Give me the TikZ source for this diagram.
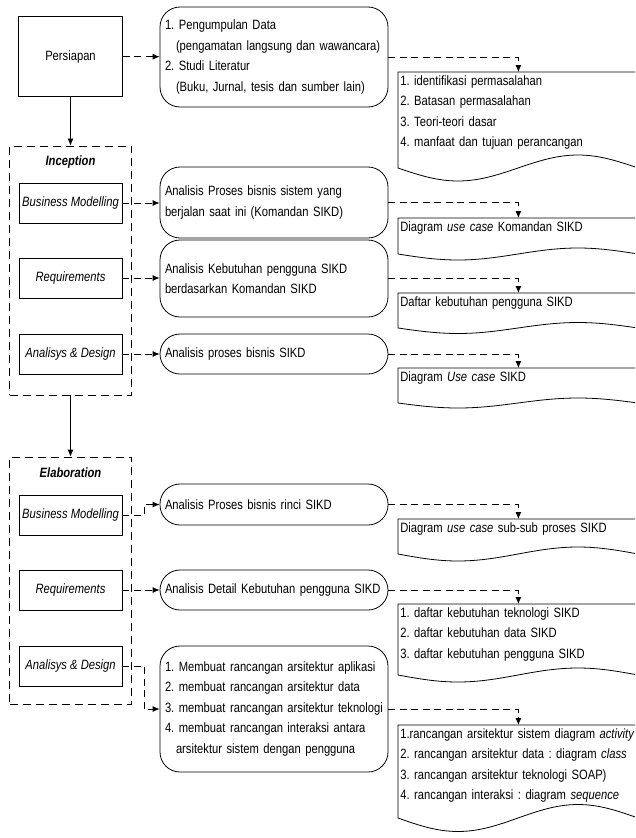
\documentclass[tikz,border=0pt]{standalone}
\usepackage{fontspec}
\setmainfont{Liberation Sans}[FakeStretch=0.83]
\usepackage{tikz}
\usetikzlibrary{arrows.meta}
\tikzset{>={Latex[length=7pt,width=6pt]}}
\frenchspacing

\begin{document}
\begin{tikzpicture}[x=1pt,y=-1pt,line width=.8pt,font=\fontsize{13.5}{20.5}\selectfont]
      \tikzstyle{stage}=[draw,minimum width=104pt,minimum height=80pt];
      \tikzstyle{frame}=[draw,dash pattern=on 8pt off 5pt,minimum width=122pt];
      \tikzstyle{disc}=[draw,minimum width=103pt,minimum height=40pt,inner sep=1pt];
      \tikzstyle{proc}=[draw,rounded corners=20pt,text width=218pt,inner xsep=5pt,align=left];
      \tikzstyle{doc}=[anchor=north west,text width=236pt,inner xsep=2pt,inner ysep=3pt,align=left];
      \tikzstyle{flow}=[->,dash pattern=on 7pt off 4.5pt];
      \useasboundingbox (0,0) rectangle (635,838);
      \clip (0,0) rectangle (635,838);

      % persiapan
      \node[stage] (persiapan) at (70.5,56.7) {Persiapan};
      \node[proc,minimum height=100pt] (pengumpulan) at (274,57) {1. Pengumpulan Data\\\hspace*{11pt}(pengamatan langsung dan wawancara)\\2. Studi Literatur\\\hspace*{11pt}(Buku, Jurnal, tesis dan sumber lain)};
      \node[doc] (identifikasi) at (398,72) {1. identifikasi permasalahan\\2. Batasan permasalahan\\3. Teori-teori dasar\\4. manfaat dan tujuan perancangan};
      \draw (identifikasi.north east) -- (identifikasi.north west) -- ++(0,96) sin ++(60,13) cos ++(60,-13) sin ++(60,-13) cos ++(60,13) -- cycle;
      \draw[flow] (persiapan.east) -- (persiapan.east -| pengumpulan.west);
      \draw[flow] (pengumpulan.east) -| (identifikasi.north);

      % inception
      \node[frame,minimum height=249pt] (inception) at (70.5,270.5) {};
      \node (inception1) at (70.5,162) {\textbf{\textit{Inception}}};
      \node[disc] (bisnis1) at (70.5,203) {\itshape Business Modelling};
      \node[disc] (kebutuhan1) at (70.5,278) {\itshape Requirements};
      \node[disc] (desain1) at (70.5,354) {\itshape Analisys \& Design};
      \draw[->] (persiapan) -- (inception);

      \node[proc,minimum height=71pt] (proses1) at (274,202.5) {Analisis Proses bisnis sistem yang\\berjalan saat ini (Komandan SIKD)};
      \node[proc,minimum height=77pt] (analisis1) at (274,278.5) {Analisis Kebutuhan pengguna SIKD\\berdasarkan Komandan SIKD};
      \node[proc,minimum height=40pt] (analisis2) at (274,354) {Analisis proses bisnis SIKD};
      \draw[flow] (bisnis1.east) -- (bisnis1.east -| proses1.west);
      \draw[flow] (kebutuhan1.east) -- (kebutuhan1.east -| analisis1.west);
      \draw[flow] (desain1.east) -- (desain1.east -| analisis2.west);

      \node[doc] (usecase1) at (398,218) {Diagram \textit{use case} Komandan SIKD};
      \draw (usecase1.north east) -- (usecase1.north west) -- ++(0,36) sin ++(60,6) cos ++(60,-6) sin ++(60,-6) cos ++(60,6) -- cycle;
      \node[doc] (daftar1) at (398,293) {Daftar kebutuhan pengguna SIKD};
      \draw (daftar1.north east) -- (daftar1.north west) -- ++(0,35) sin ++(60,5.5) cos ++(60,-5.5) sin ++(60,-5.5) cos ++(60,5.5) -- cycle;
      \node[doc] (usecase2) at (398,368) {Diagram \textit{Use case} SIKD};
      \draw (usecase2.north east) -- (usecase2.north west) -- ++(0,35) sin ++(60,5) cos ++(60,-5) sin ++(60,-5) cos ++(60,5) -- cycle;
      \draw[flow] (proses1.east) -| (usecase1.north);
      \draw[flow] (analisis1.east) -| (daftar1.north);
      \draw[flow] (analisis2.east) -| (usecase2.north);

      % elaboration
      \node[frame,minimum height=247pt] (elaboration) at (70.5,580.5) {};
      \node (elaboration1) at (70.5,473) {\textbf{\textit{Elaboration}}};
      \node[disc] (bisnis2) at (70.5,515) {\itshape Business Modelling};
      \node[disc] (kebutuhan2) at (70.5,590) {\itshape Requirements};
      \node[disc] (desain2) at (70.5,666) {\itshape Analisys \& Design};
      \draw[->] (inception) -- (elaboration);

      \node[proc,minimum height=41pt] (rinci) at (274,504.5) {Analisis Proses bisnis rinci SIKD};
      \node[proc,minimum height=40pt] (detail) at (274,590) {Analisis Detail Kebutuhan pengguna SIKD};
      \node[proc,minimum height=126pt] (rancangan) at (274,709) {1. Membuat rancangan arsitektur aplikasi\\2. membuat rancangan arsitektur data\\3. membuat rancangan arsitektur teknologi\\4. membuat rancangan interaksi antara\\\hspace*{11pt}arsitektur sistem dengan pengguna};
      \draw[flow] (bisnis2.east) -- ++(22,0) |- (rinci.west);
      \draw[flow] (kebutuhan2.east) -- (kebutuhan2.east -| detail.west);
      \draw[flow] (desain2.east) -- ++(22,0) |- (rancangan.west);

      \node[doc] (subproses) at (398,519) {Diagram \textit{use case} sub-sub proses SIKD};
      \draw (subproses.north east) -- (subproses.north west) -- ++(0,35) sin ++(60,7) cos ++(60,-7) sin ++(60,-7) cos ++(60,7) -- cycle;
      \node[doc] (daftar2) at (398,604) {1. daftar kebutuhan teknologi SIKD\\2. daftar kebutuhan data SIKD\\3. daftar kebutuhan pengguna SIKD};
      \draw (daftar2.north east) -- (daftar2.north west) -- ++(0,71) sin ++(60,7) cos ++(60,-7) sin ++(60,-7) cos ++(60,7) -- cycle;
      \node[doc] (arsitektur) at (398,725) {1.rancangan arsitektur sistem diagram \textit{activity}\\2. rancangan arsitektur data : diagram \textit{class}\\3. rancangan arsitektur teknologi SOAP)\\4. rancangan interaksi : diagram \textit{sequence}};
      \draw (arsitektur.north east) -- (arsitektur.north west) -- ++(0,93) sin ++(60,13.5) cos ++(60,-13.5) sin ++(60,-13.5) cos ++(60,13.5) -- cycle;
      \draw[flow] (rinci.east) -| (subproses.north);
      \draw[flow] (detail.east) -| (daftar2.north);
      \draw[flow] (rancangan.east) -| (arsitektur.north);
    \end{tikzpicture}
\end{document}
